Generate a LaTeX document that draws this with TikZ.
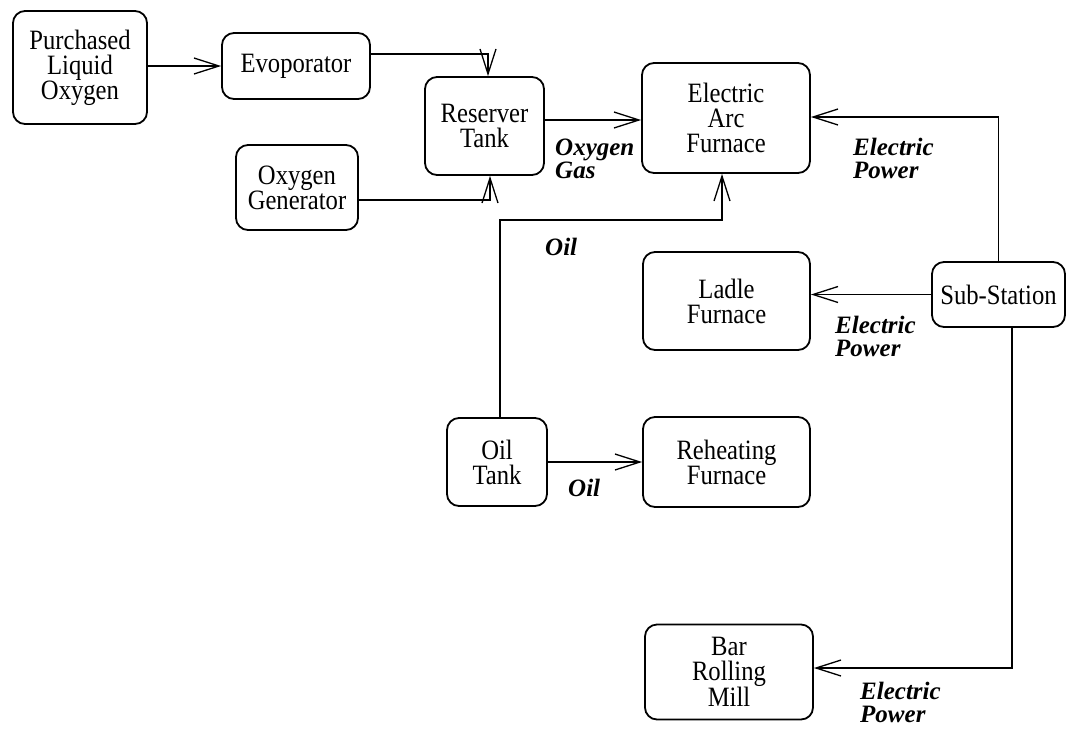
\documentclass[tikz,border=0pt]{standalone}
\usepackage{fontspec}
\setmainfont{Liberation Serif}[FakeStretch=0.88]
\newfontfamily\lblfont{Liberation Serif}
\usetikzlibrary{arrows.meta}
\begin{document}
\begin{tikzpicture}[x=1pt,y=-1pt,
  box/.style={draw, line width=1.8pt, rounded corners=12pt, align=center, inner sep=0pt,
    font=\fontsize{28}{25}\selectfont},
  lbl/.style={align=left, inner sep=0pt, anchor=west, font=\lblfont\fontsize{25}{23}\selectfont\bfseries\itshape},
  arr/.style={line width=1.3pt, -{Straight Barb[length=25pt,width=16pt,line width=1.3pt]}}]
\useasboundingbox (0,0) rectangle (1070,729);
\node[box, minimum width=134pt, minimum height=113pt] (plo) at (80,67.5) {Purchased\\Liquid\\Oxygen};
\node[box, minimum width=148pt, minimum height=66pt] (evo) at (296,66) {Evoporator};
\node[box, minimum width=122pt, minimum height=85pt] (gen) at (297,187.5) {Oxygen\\Generator};
\node[box, minimum width=119pt, minimum height=98pt] (res) at (484.5,126) {Reserver\\Tank};
\node[box, minimum width=168pt, minimum height=110pt] (eaf) at (726,118) {Electric\\Arc\\Furnace};
\node[box, minimum width=167pt, minimum height=98pt] (ladle) at (726.5,301) {Ladle\\Furnace};
\node[box, minimum width=133pt, minimum height=65pt] (sub) at (998.5,294.5) {Sub-Station};
\node[box, minimum width=100pt, minimum height=88pt] (oil) at (497,462) {Oil\\Tank};
\node[box, minimum width=167pt, minimum height=90pt] (reh) at (726.5,462) {Reheating\\Furnace};
\node[box, minimum width=168pt, minimum height=95pt] (brm) at (729,672) {Bar\\Rolling\\Mill};

\node[lbl] (l1) at (555,159) {Oxygen\\Gas};
\node[lbl] (l2) at (853,158) {Electric\\Power};
\node[lbl] (l3) at (545,247) {Oil};
\node[lbl] (l4) at (835,336) {Electric\\Power};
\node[lbl] (l5) at (568,488) {Oil};
\node[lbl] (l6) at (860,702) {Electric\\Power};

\coordinate (c1) at (488,54);
\coordinate (c2) at (490,200);
\coordinate (c3) at (500,220);
\coordinate (c4) at (722,220);

\draw[arr] (plo.east |- evo.west) -- (evo.west);
\draw[arr] (evo.east |- c1) -- (c1) -- (c1 |- res.north);
\draw[arr] (gen.east |- c2) -- (c2) -- (c2 |- res.south);
\draw[arr] (res.east |- 0,120) -- (eaf.west |- 0,120);
\draw[arr] (oil.north -| c3) -- (c3) -- (c4) -- (c4 |- eaf.south);
\draw[arr] (oil.east) -- (oil.east -| reh.west);
\draw[arr] (sub.west) -- (sub.west -| ladle.east);
\draw[arr] (sub.north) |- (eaf.east |- 0,117);
\draw[arr] (sub.south -| 1012,0) |- (brm.east |- 0,668);
\end{tikzpicture}
\end{document}
